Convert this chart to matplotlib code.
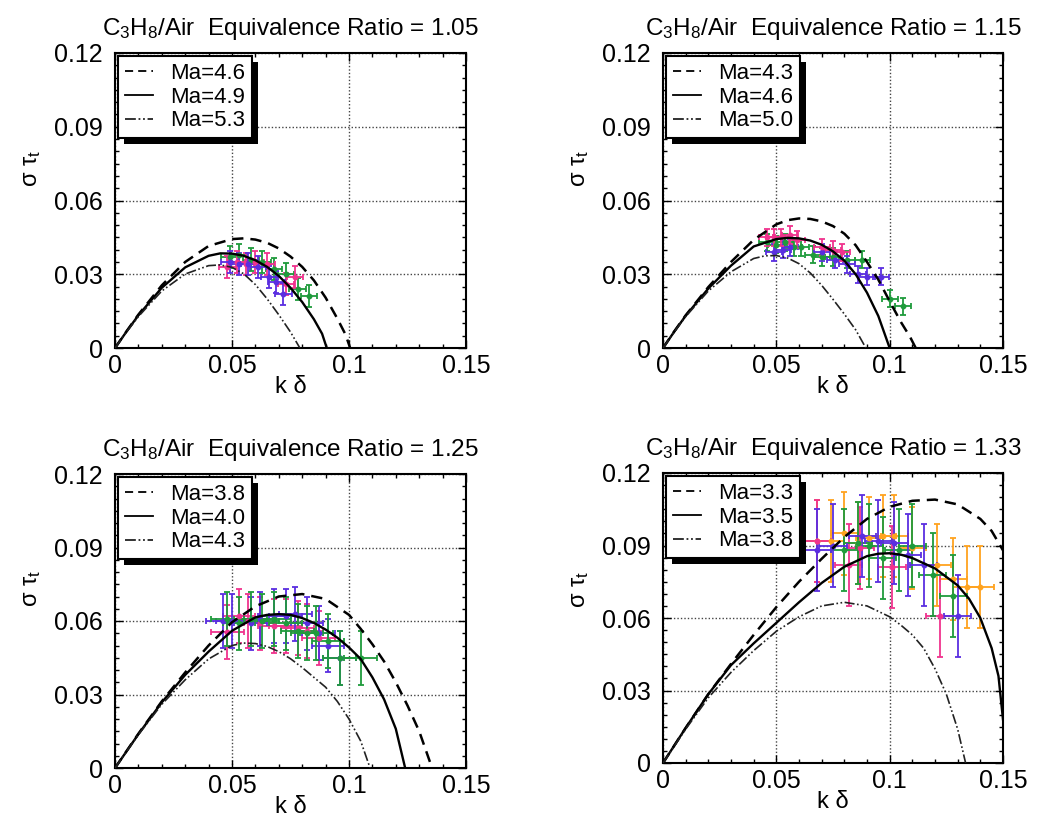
import matplotlib
matplotlib.use('Agg')
import matplotlib.pyplot as plt
from matplotlib import patheffects as pe
from matplotlib.ticker import MultipleLocator, FixedLocator

plt.rcParams['font.family'] = ['Liberation Sans', 'DejaVu Sans']
plt.rcParams['mathtext.default'] = 'regular'

# ---------------- data ----------------
ratios = ['1.05', '1.15', '1.25', '1.33']
ma_labels = [['Ma=4.6', 'Ma=4.9', 'Ma=5.3'],
             ['Ma=4.3', 'Ma=4.6', 'Ma=5.0'],
             ['Ma=3.8', 'Ma=4.0', 'Ma=4.3'],
             ['Ma=3.3', 'Ma=3.5', 'Ma=3.8']]

x_ticks = [0, 0.05, 0.1, 0.15]
x_tick_labels = ['0', '0.05', '0.1', '0.15']
y_ticks = [0, 0.03, 0.06, 0.09, 0.12]
y_tick_labels = ['0', '0.03', '0.06', '0.09', '0.12']

# Panel 1 curves (phi = 1.05)
p1_dash_x = [0, 0.005, 0.01, 0.02, 0.03, 0.04, 0.05, 0.055, 0.06, 0.065, 0.07, 0.075, 0.08, 0.085, 0.09, 0.095, 0.0985, 0.1005]
p1_dash_y = [0, 0.0069, 0.0136, 0.0255, 0.0350, 0.0415, 0.0443, 0.0446, 0.0441, 0.0428, 0.0405, 0.0372, 0.0330, 0.0275, 0.0205, 0.0120, 0.0055, 0]
p1_solid_x = [0, 0.005, 0.01, 0.02, 0.03, 0.04, 0.045, 0.05, 0.055, 0.06, 0.065, 0.07, 0.075, 0.08, 0.085, 0.0885, 0.0905]
p1_solid_y = [0, 0.0068, 0.0133, 0.0245, 0.0328, 0.0375, 0.0385, 0.0384, 0.0375, 0.0357, 0.0330, 0.0293, 0.0245, 0.0187, 0.0117, 0.0058, 0]
p1_dd_x = [0, 0.005, 0.01, 0.02, 0.03, 0.04, 0.045, 0.05, 0.055, 0.06, 0.065, 0.07, 0.075, 0.079]
p1_dd_y = [0, 0.0066, 0.0128, 0.0232, 0.0301, 0.0335, 0.0338, 0.0328, 0.0302, 0.0258, 0.0200, 0.0135, 0.0065, 0]

# Panel 2 curves (phi = 1.15)
p2_dash_x = [0, 0.005, 0.01, 0.02, 0.03, 0.04, 0.05, 0.055, 0.06, 0.065, 0.07, 0.075, 0.08, 0.085, 0.09, 0.095, 0.1, 0.105, 0.109, 0.1115]
p2_dash_y = [0, 0.0068, 0.0133, 0.0248, 0.0350, 0.0440, 0.0503, 0.0520, 0.0527, 0.0525, 0.0515, 0.0496, 0.0465, 0.0418, 0.0350, 0.0278, 0.0190, 0.0105, 0.0045, 0]
p2_solid_x = [0, 0.005, 0.01, 0.02, 0.03, 0.04, 0.05, 0.055, 0.06, 0.065, 0.07, 0.075, 0.08, 0.085, 0.09, 0.095, 0.1]
p2_solid_y = [0, 0.0067, 0.0131, 0.0242, 0.0335, 0.0413, 0.0443, 0.0448, 0.0446, 0.0437, 0.0420, 0.0393, 0.0355, 0.0300, 0.0225, 0.0130, 0]
p2_dd_x = [0, 0.005, 0.01, 0.02, 0.03, 0.04, 0.045, 0.05, 0.055, 0.06, 0.065, 0.07, 0.075, 0.08, 0.085, 0.0895]
p2_dd_y = [0, 0.0066, 0.0128, 0.0232, 0.0310, 0.0364, 0.0375, 0.0376, 0.0366, 0.0343, 0.0305, 0.0255, 0.0198, 0.0138, 0.0074, 0]

# Panel 3 curves (phi = 1.25)
p3_dash_x = [0, 0.01, 0.02, 0.03, 0.04, 0.05, 0.06, 0.07, 0.08, 0.09, 0.1, 0.105, 0.11, 0.115, 0.12, 0.125, 0.13, 0.1355]
p3_dash_y = [0, 0.0140, 0.0272, 0.0390, 0.0500, 0.0595, 0.0660, 0.0700, 0.0710, 0.0690, 0.0625, 0.0568, 0.0505, 0.0435, 0.0350, 0.0255, 0.0150, 0]
p3_solid_x = [0, 0.01, 0.02, 0.03, 0.04, 0.05, 0.06, 0.065, 0.07, 0.075, 0.08, 0.085, 0.09, 0.095, 0.1, 0.105, 0.11, 0.115, 0.12, 0.124]
p3_solid_y = [0, 0.0138, 0.0268, 0.0380, 0.0475, 0.0560, 0.0615, 0.0625, 0.0628, 0.0625, 0.0612, 0.0592, 0.0565, 0.0532, 0.0492, 0.0445, 0.0370, 0.0280, 0.0160, 0]
p3_dd_x = [0, 0.01, 0.02, 0.03, 0.04, 0.05, 0.055, 0.06, 0.065, 0.07, 0.075, 0.08, 0.085, 0.09, 0.095, 0.1, 0.105, 0.109]
p3_dd_y = [0, 0.0136, 0.0260, 0.0360, 0.0445, 0.0500, 0.0510, 0.0508, 0.0496, 0.0475, 0.0446, 0.0410, 0.0370, 0.0330, 0.0272, 0.0200, 0.0110, 0]

# Panel 4 curves (phi = 1.33)
p4_dash_x = [0, 0.01, 0.02, 0.03, 0.04, 0.05, 0.06, 0.07, 0.08, 0.09, 0.1, 0.11, 0.12, 0.13, 0.14, 0.145, 0.15, 0.152]
p4_dash_y = [0, 0.0145, 0.0285, 0.0410, 0.0530, 0.0645, 0.0750, 0.0845, 0.0935, 0.1010, 0.1060, 0.1085, 0.1090, 0.1070, 0.1010, 0.0960, 0.0880, 0.0840]
p4_solid_x = [0, 0.01, 0.02, 0.03, 0.04, 0.05, 0.06, 0.07, 0.08, 0.09, 0.095, 0.1, 0.105, 0.11, 0.12, 0.13, 0.135, 0.14, 0.145, 0.148, 0.15]
p4_solid_y = [0, 0.0145, 0.0285, 0.0405, 0.0495, 0.0580, 0.0665, 0.0745, 0.0812, 0.0856, 0.0866, 0.0868, 0.0862, 0.0848, 0.0805, 0.0735, 0.0680, 0.0600, 0.0475, 0.0360, 0.0180]
p4_dd_x = [0, 0.01, 0.02, 0.03, 0.04, 0.05, 0.06, 0.07, 0.08, 0.09, 0.1, 0.105, 0.11, 0.115, 0.12, 0.125, 0.13, 0.1335]
p4_dd_y = [0, 0.0140, 0.0270, 0.0375, 0.0465, 0.0545, 0.0605, 0.0650, 0.0665, 0.0650, 0.0605, 0.0570, 0.0530, 0.0475, 0.0390, 0.0285, 0.0140, 0]

# Experimental points: panel 1
p1_pink_x = [0.048, 0.052, 0.056, 0.060, 0.065, 0.073, 0.077]
p1_pink_y = [0.033, 0.035, 0.034, 0.035, 0.034, 0.026, 0.029]
p1_blue_x = [0.049, 0.053, 0.057, 0.061, 0.066, 0.069, 0.072]
p1_blue_y = [0.035, 0.034, 0.034, 0.033, 0.029, 0.027, 0.022]
p1_green_x = [0.049, 0.053, 0.058, 0.063, 0.068, 0.073, 0.078, 0.083]
p1_green_y = [0.037, 0.038, 0.036, 0.035, 0.032, 0.030, 0.024, 0.021]

# panel 2
p2_pink_x = [0.046, 0.049, 0.052, 0.056, 0.059, 0.070, 0.075, 0.079]
p2_pink_y = [0.045, 0.045, 0.045, 0.046, 0.044, 0.041, 0.040, 0.039]
p2_blue_x = [0.049, 0.053, 0.056, 0.070, 0.076, 0.081, 0.086, 0.090, 0.096]
p2_blue_y = [0.039, 0.040, 0.041, 0.039, 0.036, 0.034, 0.030, 0.029, 0.029]
p2_green_x = [0.046, 0.050, 0.054, 0.058, 0.061, 0.066, 0.070, 0.075, 0.081, 0.088, 0.100, 0.106]
p2_green_y = [0.043, 0.042, 0.043, 0.041, 0.041, 0.038, 0.037, 0.037, 0.036, 0.036, 0.020, 0.017]

# panel 3
p3_pink_x = [0.048, 0.053, 0.057, 0.062, 0.068, 0.073, 0.078, 0.082, 0.087]
p3_pink_y = [0.0556, 0.062, 0.060, 0.059, 0.058, 0.058, 0.057, 0.056, 0.053]
p3_blue_x = [0.046, 0.050, 0.058, 0.062, 0.068, 0.073, 0.077, 0.082, 0.087, 0.091, 0.096]
p3_blue_y = [0.060, 0.060, 0.059, 0.061, 0.062, 0.062, 0.063, 0.059, 0.055, 0.050, 0.045]
p3_green_x = [0.048, 0.053, 0.058, 0.063, 0.068, 0.073, 0.078, 0.082, 0.086, 0.091, 0.096, 0.105]
p3_green_y = [0.061, 0.059, 0.061, 0.060, 0.061, 0.059, 0.056, 0.055, 0.055, 0.052, 0.045, 0.045]

# panel 4
p4_pink_x = [0.068, 0.082, 0.087, 0.101, 0.122]
p4_pink_y = [0.092, 0.082, 0.089, 0.081, 0.061]
p4_blue_x = [0.068, 0.075, 0.088, 0.095, 0.102, 0.108, 0.115, 0.130]
p4_blue_y = [0.088, 0.090, 0.094, 0.092, 0.091, 0.086, 0.082, 0.061]
p4_green_x = [0.080, 0.086, 0.091, 0.097, 0.104, 0.110, 0.119, 0.128]
p4_green_y = [0.088, 0.091, 0.090, 0.085, 0.088, 0.090, 0.078, 0.069]
p4_orange_x = [0.068, 0.074, 0.080, 0.086, 0.091, 0.097, 0.102, 0.110, 0.121, 0.128, 0.134, 0.140]
p4_orange_y = [0.092, 0.092, 0.095, 0.091, 0.093, 0.094, 0.094, 0.089, 0.082, 0.076, 0.073, 0.073]

# error bar half-widths per panel (x, y)
p1_err = (0.0035, 0.0045)
p2_err = (0.0035, 0.0035)
p3_err = (0.007, 0.011)
p4_err = (0.006, 0.017)

pink = '#f0338e'
blue = '#5a2ee0'
green = '#1f9b3c'
orange = '#ffa31f'

# ---------------- figure ----------------
W, H = 1059, 825
fig = plt.figure(figsize=(W / 100, H / 100), dpi=100)

boxes = [(115, 53, 466, 348), (663, 53, 1003, 348),
         (115, 474, 466, 768), (663, 473, 1003, 763)]
ylabel_y = [0.61, 0.61, 0.61, 0.60]

curves = [
    [(p1_dash_x, p1_dash_y), (p1_solid_x, p1_solid_y), (p1_dd_x, p1_dd_y)],
    [(p2_dash_x, p2_dash_y), (p2_solid_x, p2_solid_y), (p2_dd_x, p2_dd_y)],
    [(p3_dash_x, p3_dash_y), (p3_solid_x, p3_solid_y), (p3_dd_x, p3_dd_y)],
    [(p4_dash_x, p4_dash_y), (p4_solid_x, p4_solid_y), (p4_dd_x, p4_dd_y)],
]
points = [
    [(p1_green_x, p1_green_y, green), (p1_pink_x, p1_pink_y, pink), (p1_blue_x, p1_blue_y, blue)],
    [(p2_green_x, p2_green_y, green), (p2_blue_x, p2_blue_y, blue), (p2_pink_x, p2_pink_y, pink)],
    [(p3_pink_x, p3_pink_y, pink), (p3_blue_x, p3_blue_y, blue), (p3_green_x, p3_green_y, green)],
    [(p4_orange_x, p4_orange_y, orange), (p4_pink_x, p4_pink_y, pink),
     (p4_green_x, p4_green_y, green), (p4_blue_x, p4_blue_y, blue)],
]
errs = [p1_err, p2_err, p3_err, p4_err]

styles = [dict(color='black', lw=1.8, linestyle=(0, (4.5, 2.8))),
          dict(color='black', lw=1.7, linestyle='-'),
          dict(color='#222222', lw=1.2, linestyle=(0, (6, 1.5, 1, 1.5, 1, 1.5)))]

for i in range(4):
    l, t, r, b = boxes[i]
    ax = fig.add_axes([l / W, 1 - b / H, (r - l) / W, (b - t) / H])
    ax.set_xlim(0, 0.15)
    ax.set_ylim(0, 0.12)
    ax.set_axisbelow(True)
    ax.grid(True, which='major', linestyle=(0, (1, 1.5)), color='#444444', lw=1.0)

    ex, ey = errs[i]
    for px, py, c in points[i]:
        ax.errorbar(px, py, xerr=ex, yerr=ey, fmt='o', ms=3.2, color=c, ecolor=c,
                    elinewidth=1.3, capsize=2.5, capthick=1.3, zorder=2)

    for (cx, cy), st, lab in zip(curves[i], styles, ma_labels[i]):
        ax.plot(cx, cy, label=lab, zorder=3, **st)

    ax.xaxis.set_major_locator(FixedLocator(x_ticks))
    ax.set_xticklabels(x_tick_labels)
    ax.yaxis.set_major_locator(FixedLocator(y_ticks))
    ax.set_yticklabels(y_tick_labels)
    ax.xaxis.set_minor_locator(MultipleLocator(0.01))
    ax.yaxis.set_minor_locator(MultipleLocator(0.005))
    ax.tick_params(which='both', direction='in', top=True, right=True, labelsize=18, width=1)
    ax.tick_params(which='major', length=6)
    ax.tick_params(axis='x', which='major', pad=4)
    ax.tick_params(axis='y', which='major', pad=9)
    ax.tick_params(which='minor', length=3)
    for s in ax.spines.values():
        s.set_linewidth(1.5)

    ax.set_xlabel('k δ', fontsize=17, labelpad=-1)
    ax.set_ylabel('σ τ$_t$', fontsize=17)
    ax.yaxis.set_label_coords(-72 / (r - l), ylabel_y[i])
    ax.set_title('C$_3$H$_8$/Air  Equivalence Ratio = ' + ratios[i], fontsize=17.5, pad=13)

    leg = ax.legend(loc='upper left', bbox_to_anchor=(0, 1), borderaxespad=0.15,
                    fontsize=16, frameon=True, fancybox=False, edgecolor='black',
                    framealpha=1, handlelength=1.25, handletextpad=0.8,
                    labelspacing=0.12, borderpad=0.3)
    for hl in leg.get_lines():
        hl.set_linewidth(1.3)
    fr = leg.get_frame()
    fr.set_linewidth(1.5)
    fr.set_path_effects([pe.SimplePatchShadow(offset=(4, -4), shadow_rgbFace='black', alpha=1.0),
                         pe.Normal()])
    leg.set_zorder(5)

fig.savefig('out.png', dpi=100)
